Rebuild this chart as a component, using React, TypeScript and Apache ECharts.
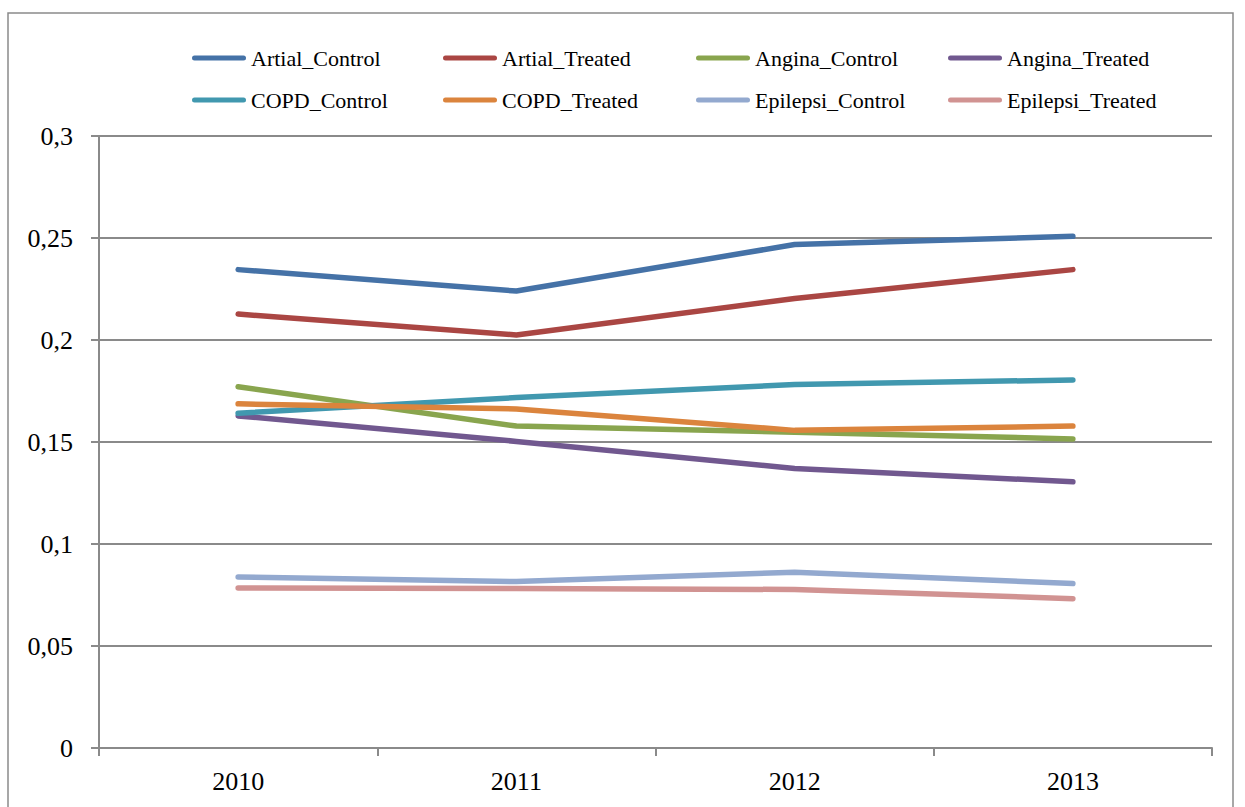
import React, { useEffect, useRef } from "react";
import * as echarts from "echarts";

// Years on the category axis
const years = ["2010", "2011", "2012", "2013"];

// Series values per year
const artialControl = [0.2345, 0.224, 0.2468, 0.2508];
const artialTreated = [0.2127, 0.2025, 0.2203, 0.2345];
const anginaControl = [0.1771, 0.1578, 0.1548, 0.1515];
const anginaTreated = [0.1628, 0.1503, 0.137, 0.1305];
const copdControl = [0.1641, 0.1718, 0.1782, 0.1804];
const copdTreated = [0.1687, 0.1662, 0.1557, 0.1578];
const epilepsiControl = [0.0838, 0.0816, 0.0862, 0.0806];
const epilepsiTreated = [0.0784, 0.0782, 0.0777, 0.0732];

// Value-axis tick labels (decimal comma)
const yTickLabels = ["0", "0,05", "0,1", "0,15", "0,2", "0,25", "0,3"];

const seriesNames = [
  "Artial_Control",
  "Artial_Treated",
  "Angina_Control",
  "Angina_Treated",
  "COPD_Control",
  "COPD_Treated",
  "Epilepsi_Control",
  "Epilepsi_Treated",
];
const seriesData = [
  artialControl,
  artialTreated,
  anginaControl,
  anginaTreated,
  copdControl,
  copdTreated,
  epilepsiControl,
  epilepsiTreated,
];
const colors = [
  "#4572A7",
  "#AA4643",
  "#89A54E",
  "#71588F",
  "#4198AF",
  "#DB843D",
  "#93A9CF",
  "#D19392",
];

const FONT = "'Liberation Serif', 'Times New Roman', serif";
const GRAY = "#8a8a8a";
const STADIUM = "path://M2.5,0 H51.5 A2.5,2.5 0 0 1 51.5,5 H2.5 A2.5,2.5 0 0 1 2.5,0 Z";

export default function App() {
  const ref = useRef<HTMLDivElement>(null);

  useEffect(() => {
    if (!ref.current) return;
    const chart = echarts.init(ref.current, undefined, { renderer: "svg" });

    // Legend laid out as a 4 x 2 grid, one legend block per entry
    const colLeft = [192, 443, 696, 948];
    const rowCenter = [58, 100];
    const legends = seriesNames.map((name, i) => ({
      data: [name],
      left: colLeft[i % 4],
      top: rowCenter[Math.floor(i / 4)] - 12,
      padding: 0,
      itemWidth: 54,
      itemHeight: 5,
      icon: STADIUM,
      selectedMode: false,
      textStyle: {
        fontFamily: FONT,
        fontSize: 22,
        color: "#000",
        lineHeight: 24,
      },
    }));

    chart.setOption({
      animation: false,
      backgroundColor: "#fff",
      color: colors,
      legend: legends,
      graphic: [
        {
          type: "rect",
          shape: { x: 8, y: 13, width: 1225, height: 830 },
          style: { fill: "none", stroke: GRAY, lineWidth: 1.5 },
          silent: true,
        },
      ],
      grid: { left: 99, right: 33, top: 136, bottom: 59 },
      xAxis: {
        type: "category",
        data: years,
        boundaryGap: true,
        axisLine: { lineStyle: { color: GRAY, width: 2 } },
        axisTick: { show: true, length: 8, lineStyle: { color: GRAY, width: 2 } },
        axisLabel: {
          fontFamily: FONT,
          fontSize: 26,
          color: "#000",
          margin: 20,
        },
      },
      yAxis: {
        type: "value",
        min: 0,
        max: 0.3,
        interval: 0.05,
        axisLine: { show: true, lineStyle: { color: GRAY, width: 2 } },
        axisTick: { show: true, length: 8, lineStyle: { color: GRAY, width: 2 } },
        splitLine: { show: true, lineStyle: { color: GRAY, width: 2 } },
        axisLabel: {
          fontFamily: FONT,
          fontSize: 26,
          color: "#000",
          margin: 26,
          formatter: (_v: number, i: number) => yTickLabels[i],
        },
      },
      series: seriesNames.map((name, i) => ({
        name,
        type: "line",
        data: seriesData[i],
        showSymbol: false,
        symbol: "none",
        lineStyle: { width: 5.5, color: colors[i], cap: "round", join: "round" },
        itemStyle: { color: colors[i] },
      })),
    });

    return () => chart.dispose();
  }, []);

  return (
    <div
      ref={ref}
      style={{ position: "absolute", left: 0, top: 0, width: 1245, height: 807 }}
    />
  );
}
